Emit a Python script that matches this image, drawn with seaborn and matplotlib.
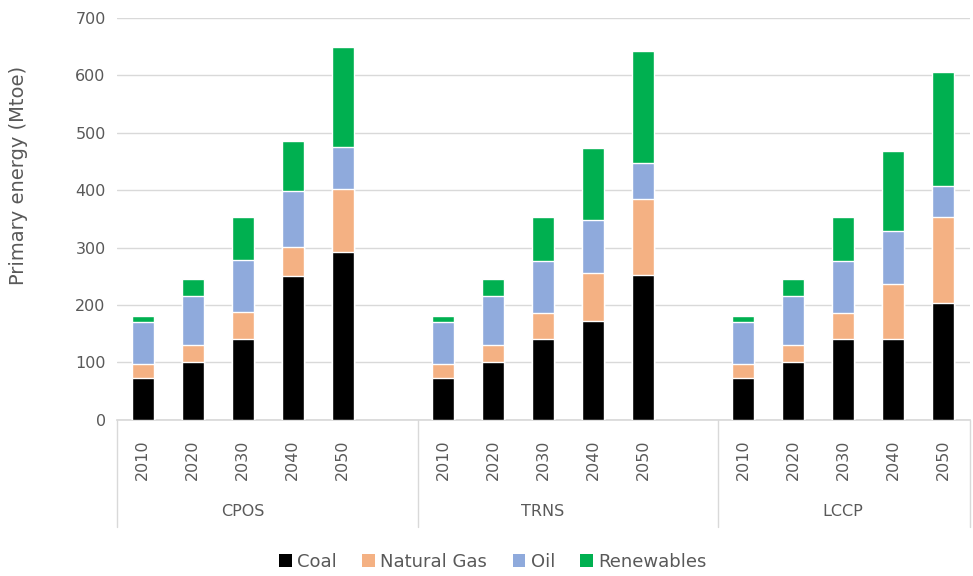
import matplotlib
matplotlib.use("Agg")
import matplotlib.pyplot as plt
import matplotlib.transforms as mtransforms
from matplotlib.patches import Patch
import seaborn as sns
import pandas as pd
import numpy as np

scenarios = ["CPOS", "TRNS", "LCCP"]
years = ["2010", "2020", "2030", "2040", "2050"]
series = ["Coal", "Natural Gas", "Oil", "Renewables"]

coal = [73, 100, 140, 251, 292,
        73, 100, 140, 172, 253,
        73, 100, 140, 140, 204]
natural_gas = [25, 30, 48, 50, 110,
               24, 30, 46, 83, 132,
               24, 30, 46, 97, 150]
oil = [73, 85, 90, 98, 74,
       74, 85, 91, 93, 62,
       74, 85, 91, 92, 54]
renewables = [10, 30, 75, 87, 173,
              10, 30, 76, 126, 196,
              10, 30, 76, 140, 198]

colors = {"Coal": "#000000", "Natural Gas": "#F4B183", "Oil": "#8FAADC", "Renewables": "#00B050"}

# positions: 5 bars per scenario, one empty slot between scenarios
pos = []
for gi in range(len(scenarios)):
    for yi in range(len(years)):
        pos.append(gi * 6 + yi)

df = pd.DataFrame({"pos": pos, "Coal": coal, "Natural Gas": natural_gas,
                   "Oil": oil, "Renewables": renewables})
df["c1"] = df["Coal"]
df["c2"] = df["c1"] + df["Natural Gas"]
df["c3"] = df["c2"] + df["Oil"]
df["c4"] = df["c3"] + df["Renewables"]

sns.set_theme(style="white")
plt.rcParams["font.family"] = ["DejaVu Sans"]

fig = plt.figure(figsize=(9.73, 5.76), dpi=100)
ax = fig.add_axes([0.120, 0.271, 0.877, 0.698])

for col, name in [("c4", "Renewables"), ("c3", "Oil"), ("c2", "Natural Gas"), ("c1", "Coal")]:
    sns.barplot(data=df, x="pos", y=col, native_scale=True, color=colors[name],
                width=0.43, errorbar=None, saturation=1, ax=ax, zorder=3)

ax.set_xlim(-0.52, 16.54)
ax.set_ylim(0, 700)
ax.set_yticks(range(0, 701, 100))
ax.yaxis.grid(True, color="#D9D9D9", linewidth=1)
ax.set_axisbelow(True)
for s in ["top", "right", "left"]:
    ax.spines[s].set_visible(False)
ax.spines["bottom"].set_color("#D9D9D9")
ax.tick_params(axis="y", colors="#595959", labelsize=11.5, length=0, pad=8)
ax.set_xticks(pos)
ax.set_xticklabels(years * len(scenarios), rotation=90, fontsize=11.5, color="#595959")
ax.tick_params(axis="x", length=0, pad=14)
ax.set_xlabel("")
ax.set_ylabel("")
fig.text(19 / 973, 1 - 175 / 576, "Primary energy (Mtoe)", rotation=90, ha="center", va="center",
         fontsize=14, color="#595959")

trans = mtransforms.blended_transform_factory(ax.transData, ax.transAxes)
for xs in [-0.52, 5.5, 11.5, 16.54]:
    ax.plot([xs, xs], [0, -0.267], transform=trans, color="#D9D9D9", linewidth=1, clip_on=False)
for gi, sc in enumerate(scenarios):
    ax.text(gi * 6 + 2, -0.227, sc, transform=trans, ha="center", va="center",
            fontsize=11.5, color="#595959")

handles = [Patch(facecolor=colors[s], edgecolor="none", label=s) for s in series]
fig.legend(handles=handles, loc="center", bbox_to_anchor=(493 / 973, 1 - 562 / 576), ncol=4,
           frameon=False, fontsize=13, handlelength=0.7, handleheight=0.7, columnspacing=1.4,
           handletextpad=0.3, labelcolor="#595959")

fig.savefig("out.png", dpi=100)
